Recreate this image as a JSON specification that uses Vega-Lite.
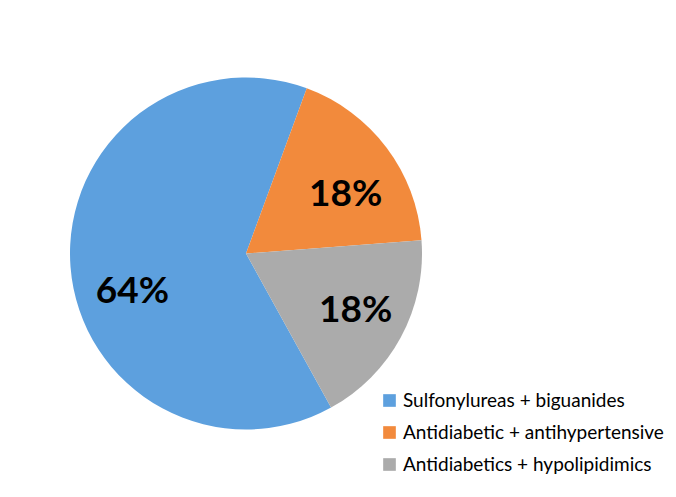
{
  "$schema": "https://vega.github.io/schema/vega-lite/v6.json",
  "width": 476,
  "height": 487,
  "autosize": {"type": "none"},
  "padding": {"left": 8, "top": 10, "right": 192, "bottom": 0},
  "background": "white",
  "config": {"view": {"stroke": null}, "font": "Lato"},
  "data": {
    "values": [
      {"category": "Sulfonylureas + biguanides", "share": 0.6364},
      {"category": "Antidiabetic + antihypertensive", "share": 0.1818},
      {"category": "Antidiabetics + hypolipidimics", "share": 0.1818}
    ]
  },
  "encoding": {
    "theta": {"field": "share", "type": "quantitative", "stack": true, "scale": {"range": [0.3526, 6.6358]}},
    "order": {"field": "category", "type": "ordinal", "sort": "ascending"}
  },
  "layer": [
    {
      "mark": {"type": "arc", "outerRadius": 176},
      "encoding": {
        "color": {
          "field": "category",
          "type": "nominal",
          "scale": {
            "domain": ["Sulfonylureas + biguanides", "Antidiabetic + antihypertensive", "Antidiabetics + hypolipidimics"],
            "range": ["#5DA0DE", "#F28A3C", "#ABABAB"]
          },
          "legend": {
            "orient": "none",
            "legendX": 372,
            "legendY": 381,
            "title": null,
            "labelFontSize": 19,
            "labelFont": "Lato",
            "labelColor": "black",
            "labelLimit": 400,
            "symbolType": "square",
            "symbolSize": 160,
            "symbolStrokeWidth": 0,
            "rowPadding": 12,
            "labelOffset": 4,
            "padding": 0
          }
        }
      }
    },
    {
      "mark": {
        "type": "text",
        "radius": 120,
        "fontSize": 37,
        "fontWeight": "bold",
        "font": "Lato",
        "color": "black",
        "align": "center",
        "baseline": "middle",
        "dx": {"expr": "datum.category == 'Sulfonylureas + biguanides' ? 6 : 4"},
        "dy": {"expr": "datum.category == 'Sulfonylureas + biguanides' ? 29 : datum.category == 'Antidiabetic + antihypertensive' ? 14 : 0"}
      },
      "encoding": {
        "text": {"field": "share", "type": "quantitative", "format": ".0%"},
        "detail": {"field": "category", "type": "nominal"}
      }
    }
  ]
}
